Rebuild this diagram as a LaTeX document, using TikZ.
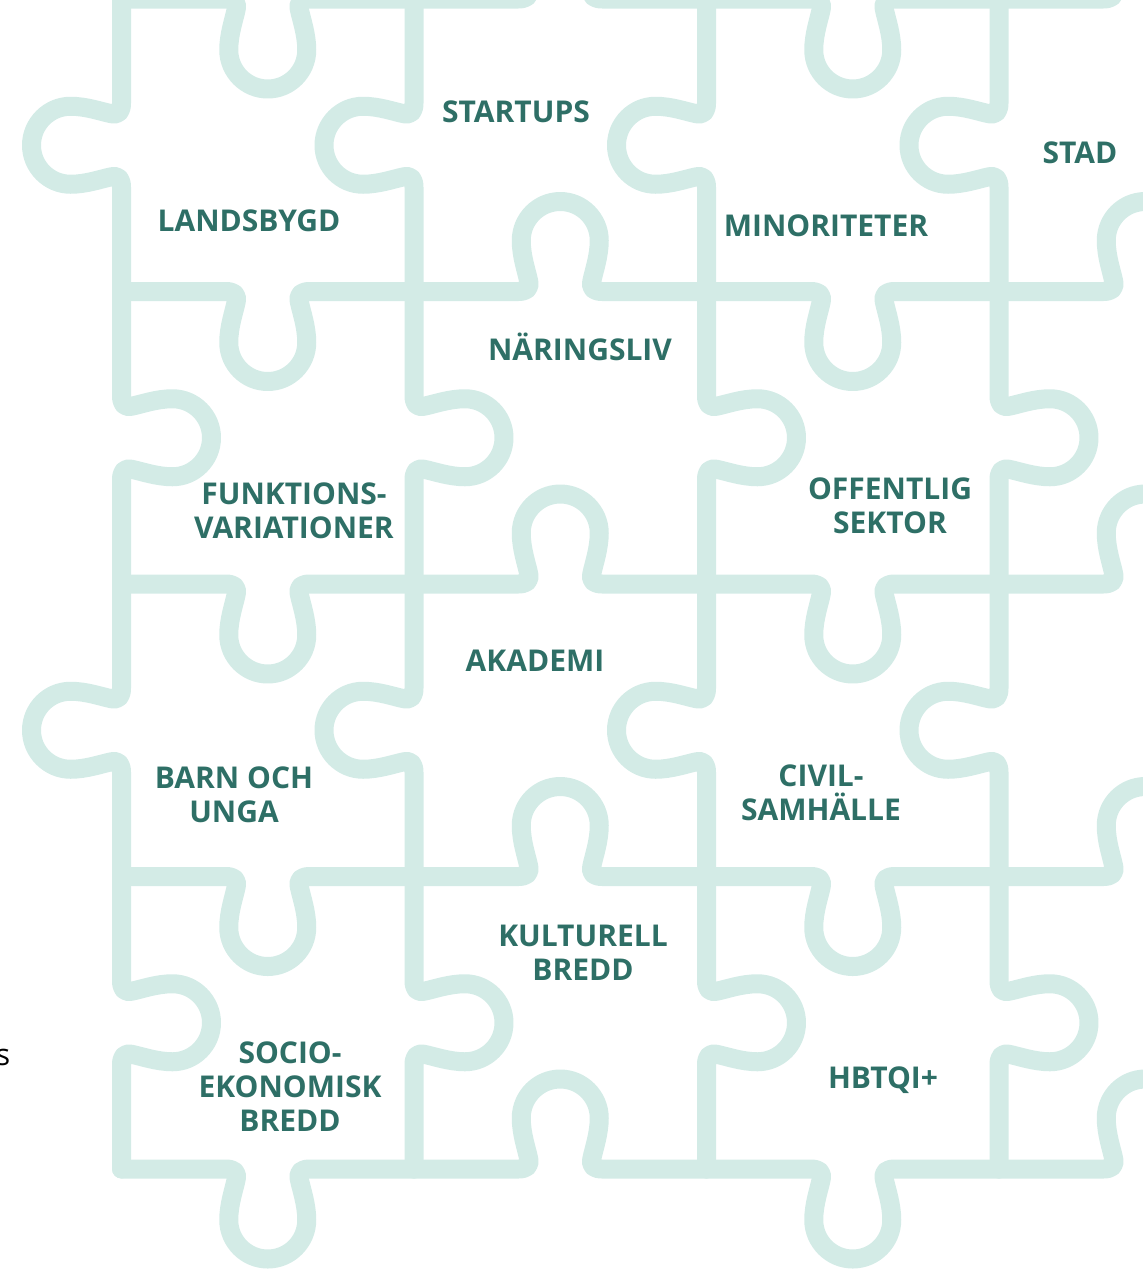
\documentclass[tikz,border=0pt]{standalone}
\usepackage{fontspec}
\setmainfont{Open Sans}
\definecolor{puzline}{HTML}{D3EBE6}
\definecolor{labeltxt}{HTML}{2E6F66}
\tikzset{
  puz/.style={draw=puzline, line width=19pt, line cap=round, line join=round},
  lbl/.style={text=labeltxt, font=\bfseries\fontsize{30}{34}\selectfont, align=center, inner sep=0pt},
}
\newcommand\knobpath{(0,0) -- (104.25,0) .. controls (112.25,0) and (116.15,3) .. (114.75,10) .. controls (112.75,20) and (107.25,35) .. (107.25,51) .. controls (107.25,72.5) and (124.75,90) .. (146.25,90) .. controls (167.75,90) and (185.25,72.5) .. (185.25,51) .. controls (185.25,35) and (179.75,20) .. (177.75,10) .. controls (176.35,3) and (180.25,0) .. (188.25,0) -- (292.5,0)}
\newcommand\hedge[3]{\begin{scope}[shift={(#1,#2)},yscale=#3]\draw[puz] \knobpath;\end{scope}}
\newcommand\vedge[3]{\begin{scope}[shift={(#1,#2)},rotate=-90,yscale=#3]\draw[puz] \knobpath;\end{scope}}
\begin{document}
\begin{tikzpicture}[x=1pt,y=-1pt]
\useasboundingbox (0,0) rectangle (1143,1270);
\begin{scope}
\clip (0,0) rectangle (1143,1270);
% horizontal edges
\foreach \i in {0,...,3}{
  \foreach \j in {0,...,4}{
    \pgfmathsetmacro\xx{121.5+292.5*\i}
    \pgfmathsetmacro\yy{-1+292.5*\j}
    \pgfmathsetmacro\dd{ifthenelse(mod(\i,2)==0,1,-1)}
    \hedge{\xx}{\yy}{\dd}
  }
}
% vertical edges
\foreach \i in {0,...,4}{
  \foreach \j in {0,...,3}{
    \pgfmathsetmacro\xx{121.5+292.5*\i}
    \pgfmathsetmacro\yy{-1+292.5*\j}
    \pgfmathsetmacro\dd{ifthenelse(mod(\j,2)==0,1,-1)}
    \vedge{\xx}{\yy}{\dd}
  }
}
\node[anchor=base east, inner sep=0pt, font=\fontsize{30}{34}\selectfont, text=black] (sfrag) at (10.5,1065) {s};
\end{scope}
\node[lbl] (startups) at (516,112) {STARTUPS};
\node[lbl] (landsbygd) at (249,221) {LANDSBYGD};
\node[lbl] (stad) at (1080,153) {STAD};
\node[lbl] (minoriteter) at (826,226) {MINORITETER};
\node[lbl, text height=21.5pt, text depth=0pt] (naringsliv) at (580,350) {NÄRINGSLIV};
\node[lbl] (funktions) at (294,511) {FUNKTIONS-\\VARIATIONER};
\node[lbl] (offentlig) at (890,505.5) {OFFENTLIG\\SEKTOR};
\node[lbl] (akademi) at (535,661) {AKADEMI};
\node[lbl] (barn) at (234,794.5) {BARN OCH\\UNGA};
\node[lbl] (civil) at (821,792.5) {CIVIL-\\SAMHÄLLE};
\node[lbl] (kulturell) at (583,952.5) {KULTURELL\\BREDD};
\node[lbl] (socio) at (290,1086.5) {SOCIO-\\EKONOMISK\\BREDD};
\node[lbl, text height=21.5pt, text depth=0pt] (hbtqi) at (883,1078) {HBTQI+};
\end{tikzpicture}
\end{document}
